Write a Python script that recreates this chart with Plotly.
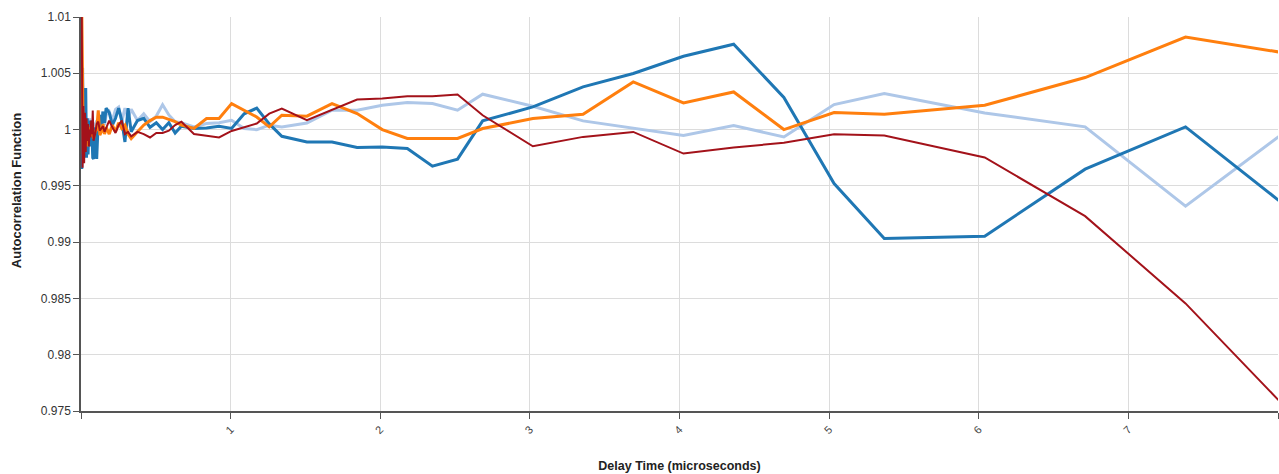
import plotly.graph_objects as go

# Delay times (microseconds), multi-tau spacing
delay_time = [
    0.0052, 0.0105, 0.0157, 0.0210, 0.0262, 0.0315, 0.0367, 0.0419,
    0.0472, 0.0524, 0.0577, 0.0629, 0.0682, 0.0734, 0.0786, 0.0839,
    0.0944, 0.1049, 0.1153, 0.1258, 0.1363, 0.1468, 0.1573, 0.1678,
    0.1887, 0.2097, 0.2307, 0.2516, 0.2726, 0.2936, 0.3146, 0.3355,
    0.3775, 0.4194, 0.4614, 0.5033, 0.5453, 0.5872, 0.6291, 0.6711,
    0.7550, 0.8389, 0.9228, 1.0066, 1.0905, 1.1744, 1.2583, 1.3422,
    1.5099, 1.6777, 1.8455, 2.0133, 2.1810, 2.3488, 2.5166, 2.6844,
    3.0199, 3.3554, 3.6910, 4.0265, 4.3620, 4.6976, 5.0331, 5.3687,
    6.0398, 6.7109, 7.3820, 8.0531,
]

acf_blue = [
    0.9965, 1.0055, 0.9980, 1.0015, 0.9990, 1.0037, 0.9975, 1.0010,
    0.9978, 1.0005, 0.9993, 1.0008, 0.9985, 0.9995, 0.9975, 0.9974,
    1.0002, 0.9974, 1.0008, 1.0013, 0.9999, 1.0016, 1.0006, 1.0019,
    1.0015, 1.0004, 1.0010, 1.0019, 1.0008, 0.9989, 1.0019, 0.9998,
    1.0008, 1.0010, 1.0002, 1.0006, 1.0000, 1.0006, 0.9997, 1.0003,
    1.0001, 1.00015, 1.0003, 1.0001, 1.0014, 1.0019, 1.0005, 0.9994,
    0.9989, 0.9989, 0.99841, 0.99846, 0.99832, 0.99675, 0.99737, 1.00077,
    1.00201, 1.00379, 1.00498, 1.00651, 1.00758, 1.00285, 0.99521, 0.99033,
    0.99053, 0.99648, 1.00024, 0.9932,
]

acf_orange = [
    1.0105, 0.9985, 0.9978, 1.0003, 0.9990, 1.0008, 0.9995, 0.9985,
    1.0002, 0.9993, 1.0000, 0.9996, 1.0004, 0.9994, 0.9998, 0.9992,
    0.9998, 1.0000, 1.0017, 0.9995, 0.9998, 1.0005, 0.9996, 1.0002,
    0.9996, 1.0004, 0.9998, 1.0006, 1.0001, 1.0004, 0.9996, 0.9992,
    0.9998, 1.0004, 1.0008, 1.0011, 1.0011, 1.0009, 1.0007, 1.0004,
    1.0001, 1.00098, 1.00098, 1.00231, 1.00172, 1.00112, 1.00024, 1.00127,
    1.00119, 1.00231, 1.00142, 1.0000, 0.99921, 0.99921, 0.99921, 1.00009,
    1.00098, 1.00136, 1.00423, 1.00237, 1.00334, 1.0000, 1.00151, 1.00136,
    1.00216, 1.00462, 1.00822, 1.00679,
]

acf_lightblue = [
    0.9990, 1.0010, 0.9985, 1.0012, 0.9995, 1.0005, 0.9992, 1.0008,
    1.0000, 0.9995, 1.0010, 1.0002, 0.9998, 1.0005, 1.0000, 1.0006,
    1.0003, 1.0008, 1.0002, 1.0012, 1.0005, 1.0016, 1.0004, 1.0013,
    1.0016, 1.0008, 1.0018, 1.0020, 1.0007, 1.0019, 1.0010, 1.0018,
    1.0008, 1.0014, 1.0007, 1.0012, 1.0022, 1.0013, 1.0007, 1.0006,
    1.00024, 1.00054, 1.0006, 1.00083, 1.00009, 0.99999, 1.00039, 1.00024,
    1.00059, 1.00172, 1.00172, 1.00216, 1.0024, 1.00231, 1.00172, 1.00314,
    1.00207, 1.00077, 1.00009, 0.99947, 1.00036, 0.99935, 1.00222, 1.0032,
    1.00148, 1.00024, 0.9932, 0.99985,
]

acf_red = [
    1.0100, 0.9966, 1.0021, 0.9970, 1.0015, 0.9980, 1.0010, 0.9990,
    1.0005, 0.9985, 1.0000, 0.9993, 1.0008, 0.9996, 1.0017, 0.9990,
    0.9996, 1.0005, 1.0007, 0.9999, 1.0001, 1.0003, 0.9998, 1.0001,
    1.0008, 1.0002, 0.9997, 1.0004, 1.0008, 0.9996, 0.9998, 0.9994,
    0.9998, 0.9996, 0.9993, 0.9997, 0.9997, 0.9999, 1.0004, 1.0007,
    0.9996, 0.99945, 0.9993, 0.99988, 1.00024, 1.00054, 1.00142, 1.00187,
    1.00083, 1.00178, 1.00267, 1.00276, 1.00296, 1.00296, 1.00311, 1.00127,
    0.99852, 0.99935, 0.99979, 0.99787, 0.99841, 0.99882, 0.99959, 0.99947,
    0.99752, 0.99231, 0.98456, 0.97528,
]

x_tick_vals = [0, 1, 2, 3, 4, 5, 6, 7, 8]
x_tick_text = ["", "1", "2", "3", "4", "5", "6", "7", "8"]
y_tick_vals = [0.975, 0.98, 0.985, 0.99, 0.995, 1.0, 1.005, 1.01]
y_tick_text = ["0.975", "0.98", "0.985", "0.99", "0.995", "1", "1.005", "1.01"]

series = [
    (acf_lightblue, "#aec7e8", 3),
    (acf_blue, "#1f77b4", 3),
    (acf_orange, "#ff7f0e", 3),
    (acf_red, "#a3121a", 2),
]

fig = go.Figure()
for vals, color, width in series:
    fig.add_trace(go.Scatter(x=delay_time, y=vals, mode="lines",
                             line=dict(color=color, width=width),
                             hoverinfo="skip"))

axis_font = "Liberation Sans, Arial, sans-serif"
fig.update_layout(
    width=1279, height=474,
    margin=dict(l=81, r=1, t=17, b=63),
    plot_bgcolor="white", paper_bgcolor="white",
    showlegend=False,
    font=dict(family=axis_font, color="#333"),
    xaxis=dict(
        range=[0, 8], tickvals=x_tick_vals, ticktext=x_tick_text,
        tickangle=-45, tickfont=dict(size=11, color="#444"),
        showgrid=True, gridcolor="#dcdcdc", gridwidth=1,
        showline=True, linecolor="#555", linewidth=1.5,
        ticks="outside", ticklen=6, tickcolor="#555",
        zeroline=False,
        title=dict(text="<b>Delay Time (microseconds)</b>",
                   font=dict(size=12.5, color="#222"), standoff=26),
    ),
    yaxis=dict(
        range=[0.975, 1.01], tickvals=y_tick_vals, ticktext=y_tick_text,
        tickfont=dict(size=12, color="#333"),
        showgrid=True, gridcolor="#dcdcdc", gridwidth=1,
        showline=True, linecolor="#555", linewidth=1.5,
        ticks="outside", ticklen=6, tickcolor="#555",
        zeroline=False,
    ),
    annotations=[dict(
        text="<b>Autocorrelation Function</b>",
        xref="paper", yref="paper", x=-0.0543, y=0.558,
        xanchor="center", yanchor="middle", textangle=-90,
        showarrow=False, font=dict(size=13, color="#222"),
    )],
)

fig.write_html(
    "out.html",
    config={"displayModeBar": False},
    post_script="document.body.style.margin='0';document.body.style.overflow='hidden';",
)
